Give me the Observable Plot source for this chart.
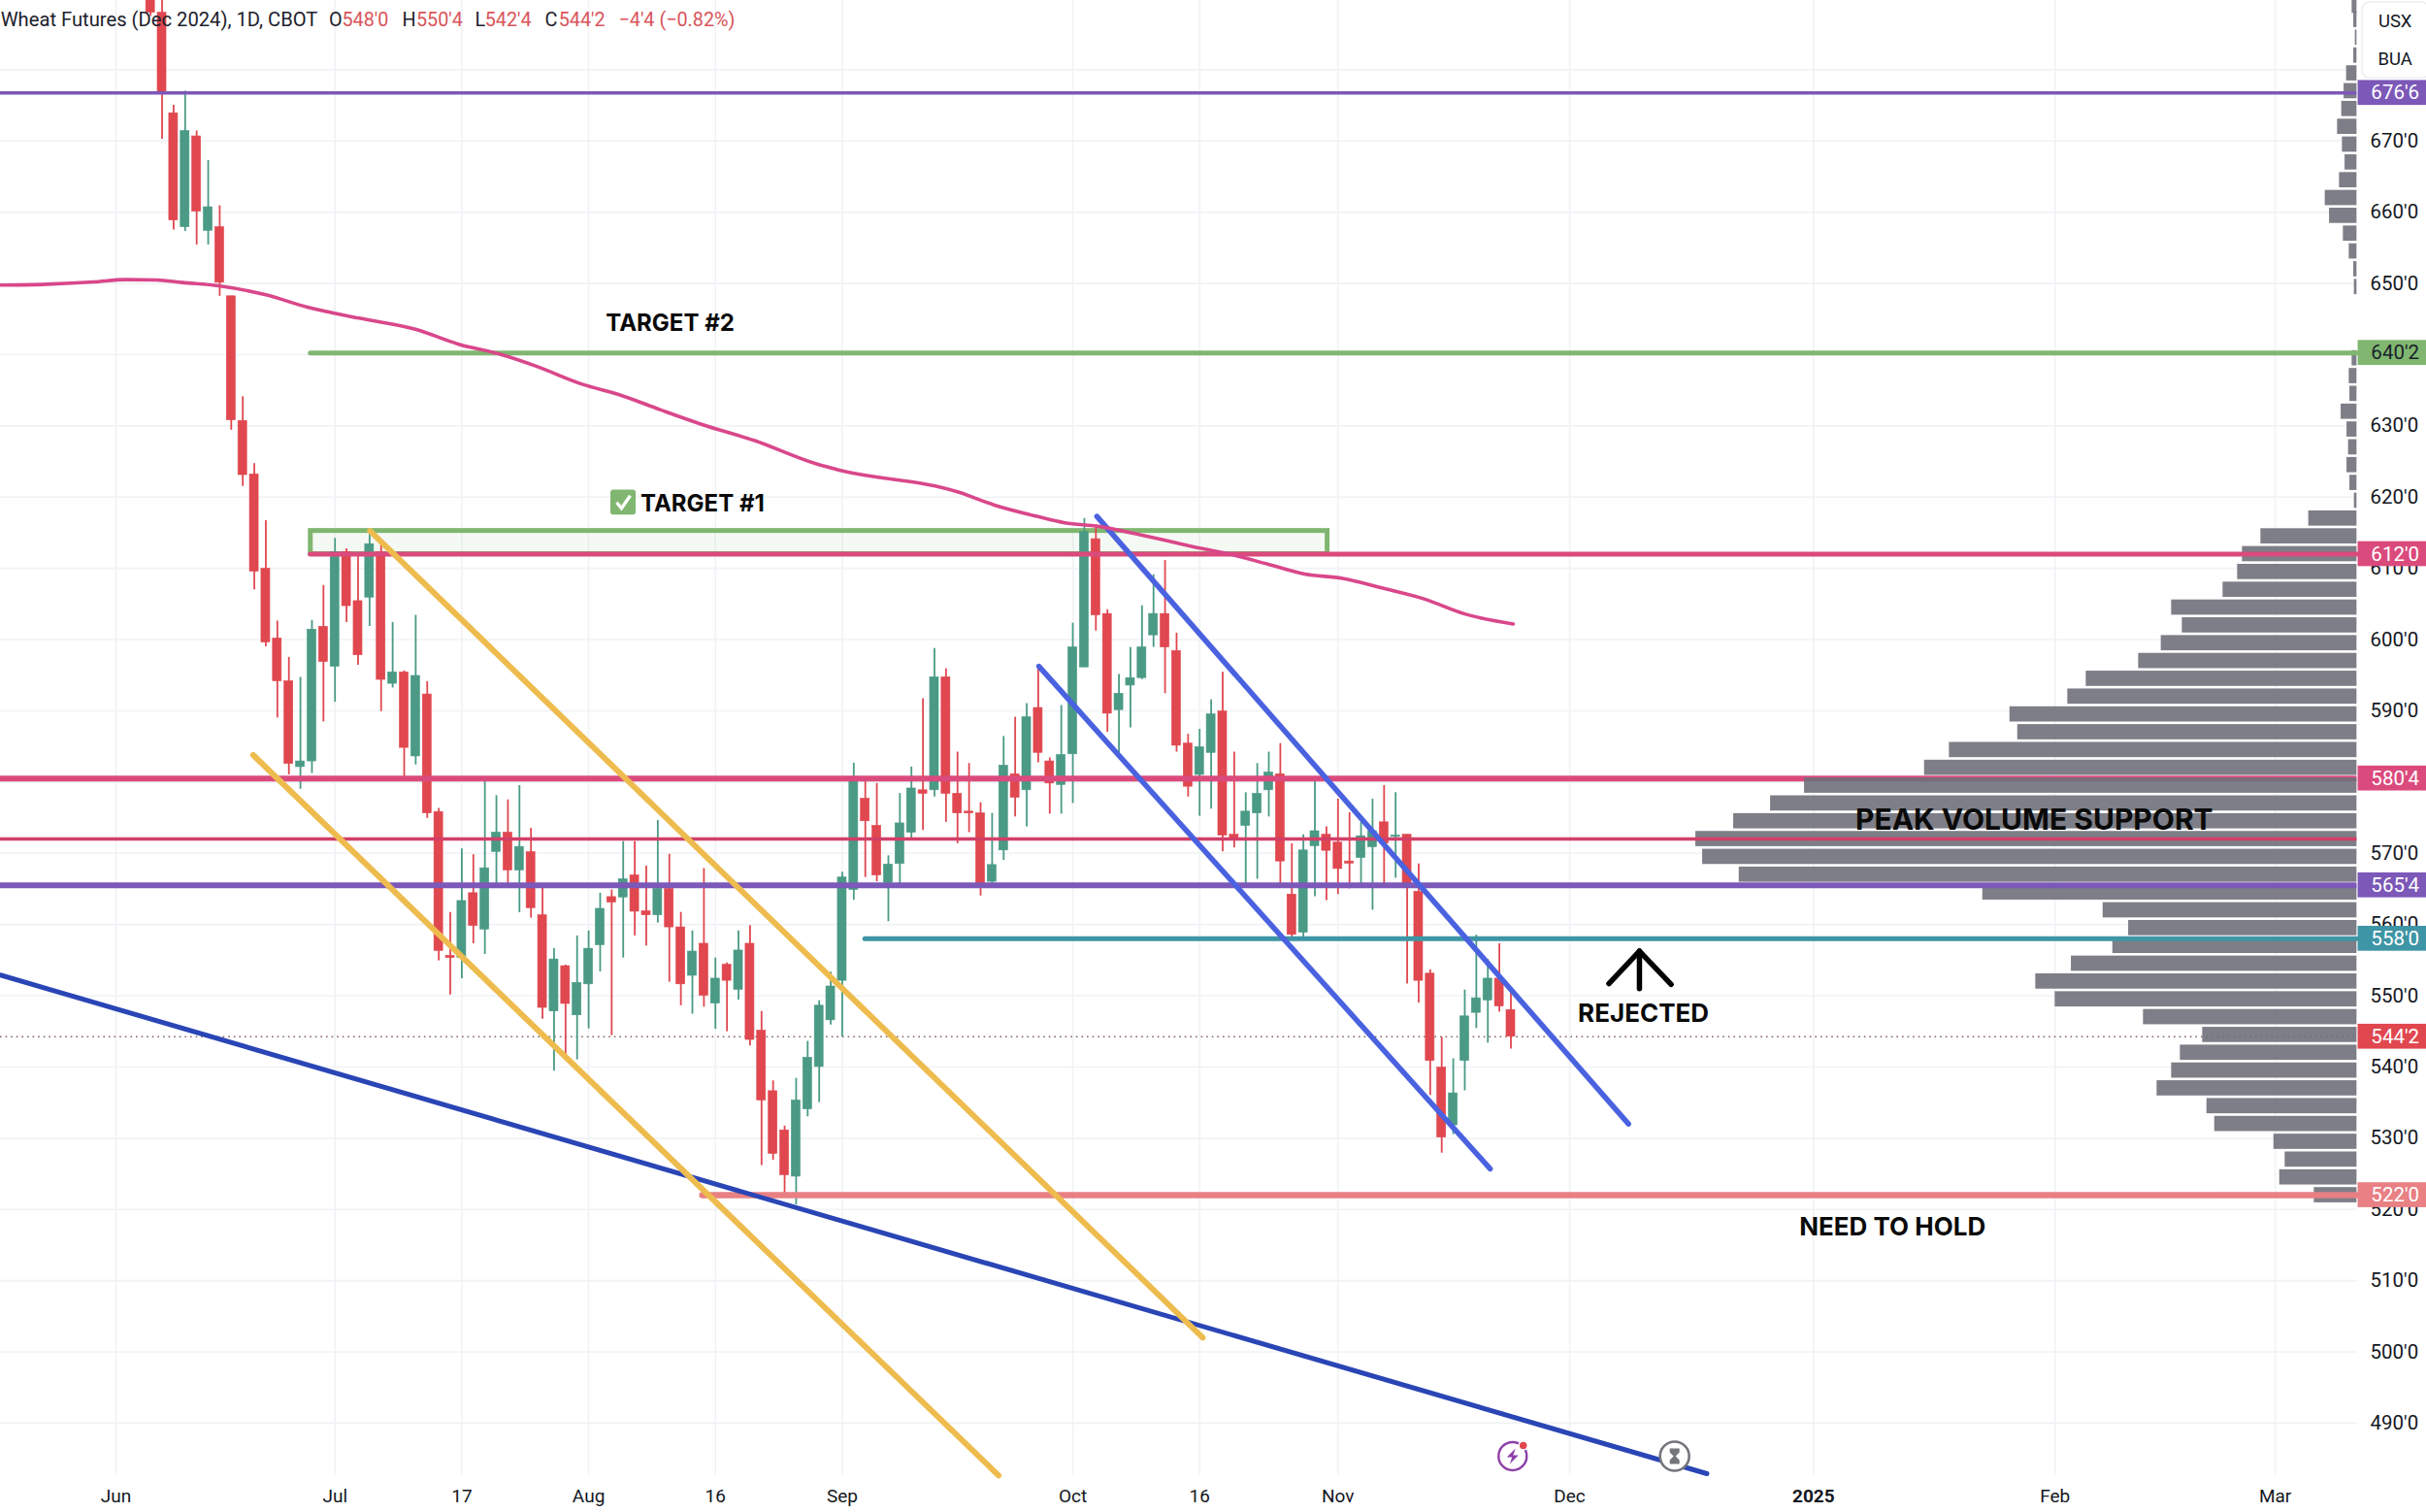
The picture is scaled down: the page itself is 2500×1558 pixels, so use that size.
<!DOCTYPE html>
<html>
<head>
<meta charset="utf-8">
<style>html,body{margin:0;padding:0;background:#fff}svg{display:block}</style>
<script src="https://cdn.jsdelivr.net/npm/d3@7"></script>
<script src="https://cdn.jsdelivr.net/npm/@observablehq/plot@0.6"></script>
</head>
<body>
<div id="chart"></div>
<script>
// Sessions are counted from the first June 2024 session (index 0)
const firstSession = 3;
const opens = [
705,688,673.9,657.9,670.65,657.4,657.9,648.2,630.7,623.2,
609.95,600.15,594.15,582.1,582.9,601.8,596.2,612.3,605.4,605.9,
612.3,593.8,595.4,583.6,592.3,575.8,555.6,555.3,564.4,559.3,
570.2,572.9,567.6,570.15,561.3,547.8,554.15,547.25,551.6,557.1,
563.85,563.8,566.9,561.85,561.3,565,559.6,552.8,557.3,548.9,
554.35,550.85,557.3,545.1,536.6,531.1,524.6,534.05,540,546.55,
552.1,564.85,577.65,573.85,565.85,568.5,572.9,578.85,578.85,594.7,
578.35,575.85,575.6,566,570.4,581.1,578.85,590.4,582.9,579.6,
583.9,596.1,614.1,603.6,590.1,593.55,594.6,600.6,603.6,598.4,
585.4,581,584.1,589.9,572.6,573.85,575.6,578.85,581.1,564.2,
558.85,571,572.6,571.5,568.85,569.35,570.85,574.35,572.3,572.6,
564.6,553.1,539.9,531.8,540.85,547.6,549.35,552.4,548];
const highs = [
710,690,675,677,671.4,667.25,660.9,648.2,634.1,624.7,
616.7,602.6,597.5,594.7,602.7,607.6,614.2,612.75,611.8,615.25,
613.65,602.4,595.6,603.4,594.1,576.3,561.7,570.6,569.8,580.7,
578.1,577.5,579.5,573.5,565.3,556.6,554.3,558.4,559.1,564.4,
564.85,571.65,571.65,568.2,574.6,569.85,561.7,559.1,567.85,555.3,
554.6,559.1,559.85,547.8,538.05,531.7,538.4,543.6,549.3,553.3,
567.35,582.65,580.3,579.8,569.65,578.4,582.1,591.7,598.75,595.9,
584.2,582.6,577.1,575.6,586.4,589.1,591,596.05,583.4,590.75,
602.3,617,616.1,604.2,595.1,598.9,604.75,609.1,611.1,600.9,
586.7,587.4,591.55,595.4,584.2,578.5,582.6,584.2,585.4,571.35,
572.6,580.4,573.7,577.6,575.7,574.35,577.6,579.5,578.5,572.6,
568.5,553.65,544.15,541.15,550.8,558.5,555.1,557.3,550.5];
const lows = [
687.5,670.25,657.5,657.3,655.4,655.4,648.2,629.4,621.5,607,
599,589,581,579,581.2,588.45,591.2,602.4,596.4,601.85,
589.9,593.2,580.3,582.4,574.9,554.9,550.1,552.4,557.3,555.8,
565.75,565.75,561.65,560.9,546.7,539.4,541.45,541,545.35,553.35,
544.4,555.3,558.4,557,560.2,551.9,548.6,547.4,548.4,545.3,
544.95,549.4,542.95,526.15,526.9,521.9,520.65,533,535,545.9,
544.2,563.4,566.6,566,560.4,565.7,572.1,573.2,577.9,574.35,
571.35,572.9,564,565.7,569,575.1,573.7,582.7,575.5,575.5,
577,596.1,601.2,587,583.9,587.6,594.4,598.9,592.4,584.2,
577.9,575.2,576.2,570.2,570.75,565.7,566.35,575.1,565.7,557.9,
558.2,563.9,563.35,564.2,565,565.7,562,565.1,566.5,551.65,
549,536,527.9,530.5,536.65,545.4,543.35,547.7,542.5];
const closes = [
688,676.75,658.85,671.4,660.1,660.7,650.1,630.8,623.1,609.55,
599.6,594.15,582.55,582.9,601.4,596.85,612.3,604.7,597.8,613.4,
594.35,595.4,584.8,594.9,575.6,556.3,555.3,563.3,559.8,567.9,
572.9,567.6,570.9,562.3,548.3,555.1,548.85,551.8,556.6,562.2,
563.1,566.35,561.8,561.3,565,559.6,551.6,556.2,550,552.4,
552.1,556.35,543.8,535.3,527.8,524.8,535.3,541.3,548.6,551.3,
566.6,580.7,574.5,566.9,568.4,574.2,579.1,578.35,594.7,578.35,
575.6,575.6,565.7,568.35,582.3,577.8,589.1,584.1,579.8,583.8,
598.9,615.1,603.4,589.6,592.4,594.6,598.9,603.6,598.9,585.1,
579.35,584.9,589.5,572.5,571.85,575.85,578.35,581.35,568.85,558.55,
570.4,573.1,570.35,567.8,568.55,572.4,573.1,571.35,572.5,565.4,
552.1,540.85,530.1,536.3,547.1,549.65,552.4,548.5,544.25];

const maSessions = [-10.02,-5.96,-1.9,0.8,3.5,5.76,8.9,13,16.6,21.1,26.05,29.66,33.26,36.4,40.5,43.6,47.2,50.85,55.35,60.7,62.5,73.2,76.2,79.9,82.3,85.2,89.2,93.3,96.6,99.9,103.1,106.4,109.7,113.4,117,121.2];
const maValues = [649.77,649.9,650.22,650.54,650.49,650.13,649.68,648.4,646.68,645.13,643.54,641.5,640.09,638.41,635.83,634.42,632.28,630.2,627.97,624.7,623.9,620.65,618.88,617.3,616.4,615.9,614.6,613.1,612,610.6,609.2,608.6,607.3,605.75,603.6,602.2];

const yellowUpper = [{s:22.04,p:615.25},{s:94.27,p:502}];
const yellowLower = [{s:11.9,p:583.8},{s:76.56,p:482.65}];
const blueUpper = [{s:85.09,p:617.3},{s:131.2,p:532}];
const blueLower = [{s:80.06,p:596.24},{s:119.2,p:525.7}];
const navyTrend = [{s:-10.02,p:552.9},{s:138.0,p:482.9}];
const rejectArrow = [{s:129.5,p:551.7},{s:132.15,p:556.27},{s:134.9,p:551.6}];
const rejectStem = [{s:132.15,p:556.27},{s:132.15,p:551}];

const profilePrices = [689,687,684.5,682,679.5,677,674.5,672,669.5,667,664.5,662,659.5,657,654.5,652,649.5,
639.5,637,634.5,632,629.5,627,624.5,622,619.5,617,614.5,612,609.5,607,604.5,602,599.5,597,594.5,592,
589.5,587,584.5,582,579.5,577,574.5,572,569.5,567,564.5,562,559.5,557,554.5,552,549.5,547,544.5,542,539.5,537,534.5,532,529.5,527,524.5,522];
const profileVolumes = [5,3.3,1.7,3.3,10.7,13.3,15.7,20,15,12.3,18,32.7,28.3,14,8,3.3,2.7,
5,8,7.3,16.3,10.3,8.7,10.3,7.3,2.7,49.7,99,118,123,138,191,180,201.7,225,279,298,
357.6,349.6,420,445.6,569.3,604.3,642.3,681.3,674.3,636.6,385.6,261.6,235.3,251.6,294.3,331,311,220,159,182,191,206,154.6,146.6,85.6,74,79.6,44];

const yTicks = [490,500,510,520,530,540,550,560,570,580,590,600,610,620,630,640,650,660,670,680];
const hiddenTickLabels = [580,640,680];
const xTicks = [0,19,30,41,52,63,83,94,106,126.1,147.25,168.2,187.3];
const xLabels = ["Jun","Jul","17","Aug","16","Sep","Oct","16","Nov","Dec","2025","Feb","Mar"];

const tagPrices = [676.75,640.25,612,580.5,565.5,558,544.25,522];
const tagLabels = ["676'6","640'2","612'0","580'4","565'4","558'0","544'2","522'0"];

const titleTexts = ["Wheat Futures (Dec 2024), 1D, CBOT","O","548'0","H","550'4","L","542'4","C","544'2","−4'4 (−0.82%)"];
const titleSessions = [-10,18.48,19.61,24.83,26.05,31.15,32,37.2,38.4,43.6];

const annotations = [
  {t:"TARGET #2",s:48.07,p:644.45},
  {t:"PEAK VOLUME SUPPORT",s:166.4,p:574.6},
  {t:"REJECTED",s:132.5,p:547.45},
  {t:"NEED TO HOLD",s:154.1,p:517.5}
];

// ---- styling and build
const FONT = "Roboto, 'Liberation Sans', sans-serif";
const LABELFONT = "Inter, Roboto, sans-serif";
const green = "#4a9a85", red = "#e0474f", grid = "#f0f2f5", ink = "#131722";
const pink = "#db4a7c", purple = "#7c58b8", tagFills = ["#7c58b8","#80b670","#db4a7c","#db4a7c","#7c58b8","#3e95a5","#e0474f","#e88084"];
const paneEnd = 194.39, tagStart = 194.49, tagEnd = 200.42, tagCenter = 197.7, barHalf = 0.38;
const yTop = 689.73, yBottom = 482.63;
const volPerSession = 11.88, rowHalf = 1.07;

const candles = opens.map((o,k)=>({s:firstSession+k,o,h:highs[k],l:lows[k],c:closes[k]}));
const candleColor = d => d.c >= d.o ? green : red;
const ma = maSessions.map((s,k)=>({s,p:maValues[k]}));
const profile = profilePrices.map((p,k)=>({p,v:profileVolumes[k]}));
const tags = tagPrices.map((p,k)=>({p,label:tagLabels[k],fill:tagFills[k],ink:k===1?"#1a1f2a":"#fff"}));
const titleParts = titleTexts.map((t,k)=>({t,s:titleSessions[k],fill:(k===0||k===1||k===3||k===5||k===7)?"#1d212c":"#d9545a"}));
const tickLabel = new Map(xTicks.map((t,k)=>[t,xLabels[k]]));

const boltSymbol = {draw(c,size){const u=Math.sqrt(size)/10;
  c.moveTo(3*u,-8*u);c.lineTo(-6*u,1*u);c.lineTo(-0.5*u,1*u);c.lineTo(-3*u,8*u);c.lineTo(6*u,-1*u);c.lineTo(0.5*u,-1*u);c.closePath();}};
const glassSymbol = {draw(c,size){const u=Math.sqrt(size)/10;
  c.moveTo(-5*u,-8*u);c.lineTo(5*u,-8*u);c.lineTo(5*u,-4*u);c.lineTo(1*u,0);c.lineTo(5*u,4*u);c.lineTo(5*u,8*u);c.lineTo(-5*u,8*u);c.lineTo(-5*u,4*u);c.lineTo(-1*u,0);c.lineTo(-5*u,-4*u);c.closePath();}};
const checkSymbol = {draw(c,size){const u=Math.sqrt(size)/10;
  c.moveTo(-7*u,0);c.lineTo(-2*u,6*u);c.lineTo(7*u,-7*u);}};
const glyphRadius = 5.64; // a symbol radius that gives one path unit per pixel

const chart = Plot.plot({
  width:2500,height:1558,marginTop:0,marginRight:0,marginLeft:0,marginBottom:38,
  style:{fontFamily:FONT,background:"#fff",overflow:"hidden"},
  x:{domain:[-10.017,200.42],range:[0,2500],axis:null},
  y:{domain:[yBottom,yTop],range:[1520,0],axis:null},
  color:{type:"identity"},
  marks:[
    // grid
    Plot.ruleY(yTicks,{x1:-10.017,x2:paneEnd,stroke:grid,strokeWidth:1.6}),
    Plot.ruleX(xTicks,{y1:yBottom,y2:yTop,stroke:grid,strokeWidth:1.6}),
    // last price dotted line
    Plot.ruleY([tagPrices[6]],{x1:-10.017,x2:paneEnd,stroke:"#8a6464",strokeWidth:1.6,strokeDasharray:"1.6 4"}),
    // target box
    Plot.rect([{}],{x1:16.9,x2:105.1,y1:tagPrices[2],y2:615.25,fill:"#7fb56f",fillOpacity:0.08,stroke:"#80b670",strokeWidth:5}),
    // candles
    Plot.ruleX(candles,{x:"s",y1:"l",y2:"h",stroke:candleColor,strokeWidth:1.8}),
    Plot.rect(candles,{x1:d=>d.s-barHalf,x2:d=>d.s+barHalf,y1:"o",y2:"c",fill:candleColor,stroke:candleColor,strokeWidth:0.6}),
    // level that lies beneath the volume profile
    Plot.ruleY([tagPrices[3]],{x1:-10.017,x2:paneEnd,stroke:pink,strokeWidth:6}),
    // volume profile
    Plot.rect(profile,{x1:d=>paneEnd-d.v/volPerSession,x2:paneEnd,y1:d=>d.p-rowHalf,y2:d=>d.p+rowHalf,fill:"#6f707a",fillOpacity:0.9}),
    // level lines
    Plot.ruleY([tagPrices[0]],{x1:-10.017,x2:paneEnd,stroke:purple,strokeWidth:3.5}),
    Plot.ruleY([tagPrices[1]],{x1:16.9,x2:paneEnd,stroke:"#80b670",strokeWidth:5,strokeLinecap:"round"}),
    Plot.ruleY([tagPrices[2]],{x1:16.9,x2:paneEnd,stroke:pink,strokeWidth:5,strokeLinecap:"round"}),
    Plot.ruleY([572],{x1:-10.017,x2:paneEnd,stroke:"#d23f68",strokeWidth:3.5}),
    Plot.ruleY([tagPrices[4]],{x1:-10.017,x2:paneEnd,stroke:purple,strokeWidth:6}),
    Plot.ruleY([tagPrices[5]],{x1:65,x2:paneEnd,stroke:"#3e95a5",strokeWidth:5,strokeLinecap:"round"}),
    Plot.ruleY([tagPrices[7]],{x1:50.9,x2:paneEnd,stroke:"#e88084",strokeWidth:6.5,strokeLinecap:"round"}),
    // trend lines
    Plot.line(navyTrend,{x:"s",y:"p",stroke:"#2a45b5",strokeWidth:5}),
    Plot.line(yellowUpper,{x:"s",y:"p",stroke:"#eebc4e",strokeWidth:6,strokeLinecap:"round"}),
    Plot.line(yellowLower,{x:"s",y:"p",stroke:"#eebc4e",strokeWidth:6,strokeLinecap:"round"}),
    Plot.line(blueUpper,{x:"s",y:"p",stroke:"#4a62e0",strokeWidth:5.5,strokeLinecap:"round"}),
    Plot.line(blueLower,{x:"s",y:"p",stroke:"#4a62e0",strokeWidth:5.5,strokeLinecap:"round"}),
    Plot.line(ma,{x:"s",y:"p",stroke:"#d9478a",strokeWidth:3.6,curve:"monotone-x"}),
    // arrow
    Plot.line(rejectArrow,{x:"s",y:"p",stroke:"#000",strokeWidth:5.5,strokeLinecap:"round",strokeLinejoin:"round"}),
    Plot.line(rejectStem,{x:"s",y:"p",stroke:"#000",strokeWidth:5.5,strokeLinecap:"round"}),
    // annotations
    Plot.text(annotations,{x:"s",y:"p",text:"t",fontFamily:LABELFONT,fontWeight:700,fontSize:d=>d.t.startsWith("PEAK")?30:d.t.startsWith("TARGET")?24:26,fill:"#0a0a0a"}),
    Plot.rect([{}],{x1:42.93,x2:45.12,y1:617.5,y2:621,fill:"#80b670",rx:3}),
    Plot.dot([{s:44.02,p:619.25}],{x:"s",y:"p",r:glyphRadius,symbol:checkSymbol,fill:"none",stroke:"#fff",strokeWidth:3.4}),
    Plot.text([{t:"TARGET #1",s:45.5,p:619}],{x:"s",y:"p",text:"t",textAnchor:"start",fontFamily:LABELFONT,fontWeight:700,fontSize:24,fill:"#0a0a0a"}),
    // bottom icons
    Plot.dot([{s:121.15,p:485.36}],{x:"s",y:"p",r:14.5,fill:"#fff",stroke:"#8e3fa8",strokeWidth:2.4}),
    Plot.dot([{s:121.15,p:485.36}],{x:"s",y:"p",r:glyphRadius,symbol:boltSymbol,fill:"#8e3fa8"}),
    Plot.dot([{s:122.07,p:486.87}],{x:"s",y:"p",r:4.5,fill:"#e0474f",stroke:"#fff",strokeWidth:1.5}),
    Plot.dot([{s:135.2,p:485.36}],{x:"s",y:"p",r:15,fill:"#fff",stroke:"#72757c",strokeWidth:2.6}),
    Plot.dot([{s:135.2,p:485.36}],{x:"s",y:"p",r:glyphRadius,symbol:glassSymbol,fill:"#72757c"}),
    // axes
    Plot.axisY(yTicks.filter(t=>!hiddenTickLabels.includes(t)),{anchor:"right",tickSize:0,tickPadding:-58,label:null,fontSize:20.5,fill:ink,tickFormat:d=>d+"'0"}),
    Plot.axisX(xTicks.filter(t=>tickLabel.get(t)!=="2025"),{anchor:"bottom",tickSize:0,tickPadding:14,label:null,fontSize:19,fill:ink,tickFormat:d=>tickLabel.get(d)}),
    Plot.axisX(xTicks.filter(t=>tickLabel.get(t)==="2025"),{anchor:"bottom",tickSize:0,tickPadding:14,label:null,fontSize:19,fontWeight:700,fill:ink,tickFormat:d=>tickLabel.get(d)}),
    // price tags
    Plot.rect(tags,{x1:tagStart,x2:tagEnd,y1:d=>d.p-1.75,y2:d=>d.p+1.75,fill:"fill"}),
    Plot.text(tags,{x:tagCenter,y:"p",text:"label",fill:"ink",fontSize:20.5}),
    // unit box
    Plot.rect([{}],{x1:194.87,x2:200.7,y1:678.8,y2:689.45,fill:"#fff",stroke:"#eceef2",strokeWidth:1.5,rx:8}),
    Plot.text([{t:"USX",p:686.85},{t:"BUA",p:681.5}],{x:tagCenter,y:"p",text:"t",fill:ink,fontSize:18.5}),
    // title
    Plot.text(titleParts,{x:"s",y:686.99,text:"t",fill:"fill",textAnchor:"start",fontSize:d=>d.t.length>20?20.2:19.8})
  ]
});
document.getElementById("chart").appendChild(chart);
</script>
</body>
</html>
